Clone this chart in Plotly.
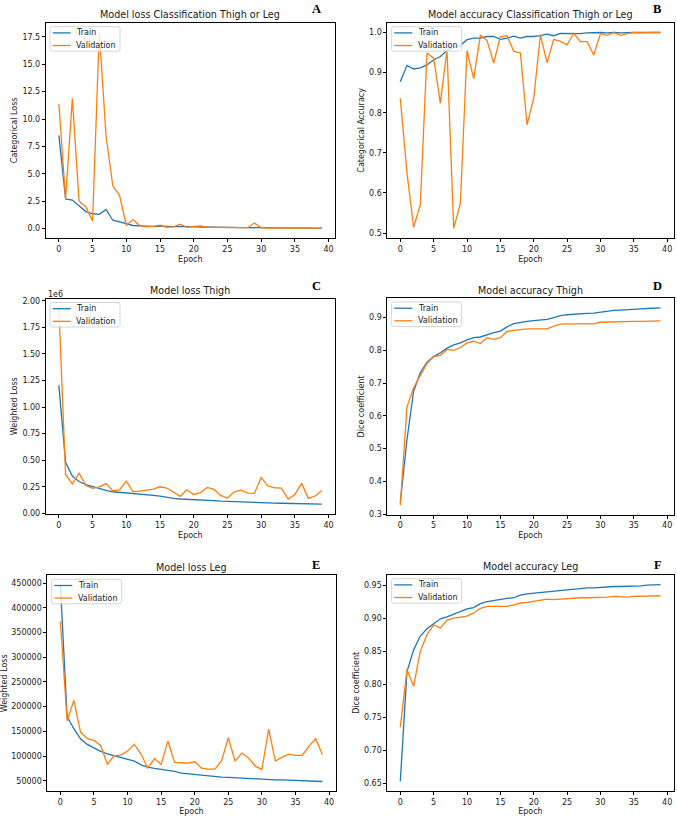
import plotly.graph_objects as go

W, H = 677, 816

epochs = list(range(40))

# Panel A: classification loss
clf_loss_train = [8.5, 2.7, 2.6, 2.07, 1.55, 1.35, 1.3, 1.75, 0.76, 0.6,
                  0.42, 0.28, 0.25, 0.2, 0.2, 0.22, 0.18, 0.17, 0.2, 0.15,
                  0.15, 0.14, 0.12, 0.12, 0.1, 0.1, 0.09, 0.08, 0.08, 0.07,
                  0.05, 0.05, 0.05, 0.04, 0.04, 0.04, 0.03, 0.03, 0.03, 0.03]
clf_loss_val = [11.4, 2.7, 11.9, 2.5, 2.0, 0.7, 17.9, 8.45, 3.9, 3.04,
                0.3, 0.82, 0.25, 0.15, 0.2, 0.3, 0.12, 0.15, 0.4, 0.1,
                0.2, 0.25, 0.12, 0.12, 0.1, 0.06, 0.08, 0.08, 0.08, 0.5,
                0.06, 0.05, 0.05, 0.04, 0.04, 0.06, 0.03, 0.03, 0.03, 0.03]

# Panel B: classification accuracy
clf_acc_train = [0.877, 0.918, 0.909, 0.912, 0.919, 0.932, 0.940, 0.955, 0.962, 0.968,
                 0.982, 0.986, 0.986, 0.990, 0.990, 0.983, 0.986, 0.991, 0.986, 0.990,
                 0.990, 0.992, 0.996, 0.992, 0.998, 0.998, 0.998, 0.997, 0.999, 1.0,
                 1.0, 0.999, 1.0, 0.999, 1.0, 1.0, 1.0, 1.0, 1.0, 1.0]
clf_acc_val = [0.836, 0.65, 0.514, 0.571, 0.949, 0.936, 0.824, 0.957, 0.512, 0.573,
               0.955, 0.885, 0.993, 0.980, 0.924, 0.990, 0.992, 0.953, 0.949, 0.770,
               0.836, 0.994, 0.925, 0.983, 0.978, 0.969, 0.998, 0.977, 0.977, 0.944,
               0.997, 0.993, 1.0, 0.993, 0.997, 1.0, 0.999, 1.0, 1.0, 1.0]

# Panel C: thigh loss
thigh_loss_train = [1205000, 480000, 350000, 300000, 270000, 250000, 235000, 216000, 203000, 197000,
                    188000, 180000, 180000, 175000, 169000, 163000, 150000, 140000, 135000, 133000,
                    130000, 130000, 128000, 120000, 115000, 112000, 110000, 110000, 108000, 106000,
                    102000, 99000, 96000, 95000, 93000, 90000, 90000, 89000, 88000, 86000]
thigh_loss_val = [1930000, 366000, 275000, 378000, 263000, 235000, 250000, 280000, 213000, 220000,
                  304000, 203000, 210000, 220000, 228000, 250000, 238000, 200000, 160000, 222000,
                  178000, 194000, 244000, 225000, 169000, 144000, 203000, 219000, 191000, 188000,
                  338000, 257000, 241000, 238000, 135000, 178000, 282000, 141000, 163000, 216000]
thigh_loss_tickvals = [0, 250000, 500000, 750000, 1000000, 1250000, 1500000, 1750000, 2000000]
thigh_loss_ticktext = ["0.00", "0.25", "0.50", "0.75", "1.00", "1.25", "1.50", "1.75", "2.00"]

# Panel D: thigh dice
thigh_acc_train = [0.335, 0.528, 0.676, 0.732, 0.764, 0.781, 0.793, 0.807, 0.817, 0.823,
                   0.832, 0.839, 0.841, 0.848, 0.854, 0.859, 0.872, 0.882, 0.886, 0.889,
                   0.891, 0.893, 0.895, 0.900, 0.906, 0.909, 0.911, 0.912, 0.913, 0.914,
                   0.917, 0.920, 0.922, 0.923, 0.925, 0.926, 0.927, 0.928, 0.929, 0.930]
thigh_acc_val = [0.328, 0.627, 0.686, 0.721, 0.760, 0.781, 0.785, 0.803, 0.800, 0.809,
                 0.823, 0.828, 0.821, 0.839, 0.834, 0.839, 0.858, 0.861, 0.864, 0.866,
                 0.866, 0.866, 0.866, 0.874, 0.880, 0.881, 0.881, 0.881, 0.881, 0.881,
                 0.886, 0.887, 0.887, 0.888, 0.888, 0.889, 0.889, 0.889, 0.890, 0.890]

# Panel E: leg loss
leg_loss_train = [446000, 180000, 155400, 135100, 123600, 116200, 109500, 104700, 100700, 97300,
                  93200, 89900, 82400, 77700, 75000, 73000, 71600, 68900, 65500, 64200,
                  62800, 61500, 58800, 58100, 57400, 56800, 56100, 54700, 54000, 53400,
                  53400, 52700, 52000, 52000, 51300, 50700, 50000, 50000, 49300, 48600]
leg_loss_val = [373000, 171000, 212800, 148600, 135100, 131800, 121600, 83100, 100700, 102000,
                110100, 123600, 104100, 75700, 94600, 83100, 130400, 87200, 86500, 85800,
                88500, 75700, 73600, 73600, 90500, 137200, 89900, 106100, 96000, 79700,
                73000, 154700, 89900, 98000, 104100, 101400, 101400, 120300, 135100, 103400]

# Panel F: leg dice
leg_acc_train = [0.653, 0.819, 0.852, 0.873, 0.884, 0.892, 0.899, 0.902, 0.906, 0.910,
                 0.914, 0.916, 0.922, 0.925, 0.927, 0.929, 0.930, 0.931, 0.935, 0.937,
                 0.938, 0.939, 0.941, 0.942, 0.942, 0.943, 0.944, 0.945, 0.946, 0.946,
                 0.947, 0.947, 0.948, 0.948, 0.948, 0.949, 0.949, 0.950, 0.950, 0.951]
leg_acc_val = [0.735, 0.822, 0.797, 0.850, 0.875, 0.890, 0.885, 0.897, 0.900, 0.902,
               0.903, 0.908, 0.915, 0.918, 0.918, 0.917, 0.918, 0.920, 0.923, 0.924,
               0.926, 0.927, 0.929, 0.928, 0.929, 0.930, 0.930, 0.931, 0.931, 0.931,
               0.932, 0.932, 0.933, 0.932, 0.932, 0.933, 0.933, 0.933, 0.933, 0.934]

series_names = ["Train", "Validation"]
colors = ["#1f77b4", "#ff7f0e"]

panels = [
    dict(letter="A", title="Model loss Classification Thigh or Leg", ytitle="Categorical Loss",
         train=clf_loss_train, val=clf_loss_val, box=(45.7, 335.0, 22.7, 238.0),
         dtick=2.5, fmt=".1f", letter_pos=(316, 9.3)),
    dict(letter="B", title="Model accuracy Classification Thigh or Leg", ytitle="Categorical Accuracy",
         train=clf_acc_train, val=clf_acc_val, box=(387.3, 673.5, 22.7, 238.0),
         dtick=0.1, fmt=".1f", letter_pos=(657.3, 8.8)),
    dict(letter="C", title="Model loss Thigh", ytitle="Weighted Loss",
         train=thigh_loss_train, val=thigh_loss_val, box=(45.7, 335.0, 298.5, 514.0),
         tickvals=thigh_loss_tickvals, ticktext=thigh_loss_ticktext, letter_pos=(316, 286)),
    dict(letter="D", title="Model accuracy Thigh", ytitle="Dice coefficient",
         train=thigh_acc_train, val=thigh_acc_val, box=(387.3, 673.5, 298.0, 514.8),
         dtick=0.1, fmt=".1f", letter_pos=(657.3, 285.7)),
    dict(letter="E", title="Model loss Leg", ytitle="Weighted Loss",
         train=leg_loss_train, val=leg_loss_val, box=(47.3, 335.5, 575.3, 791.3),
         dtick=50000, fmt="d", letter_pos=(316, 565.3)),
    dict(letter="F", title="Model accuracy Leg", ytitle="Dice coefficient",
         train=leg_acc_train, val=leg_acc_val, box=(387.3, 673.5, 574.7, 791.0),
         dtick=0.05, fmt=".2f", letter_pos=(658, 565.3)),
]


def fx(px):
    return px / W


def fy(py):
    return 1 - py / H


FONT = "DejaVu Sans"
TXT = "#1a1a1a"

fig = go.Figure()
layout = dict(
    width=W, height=H, margin=dict(l=0, r=0, t=0, b=0),
    paper_bgcolor="white", plot_bgcolor="white", showlegend=False,
    font=dict(family=FONT, size=8, color=TXT),
)
annotations = []
shapes = []

for i, p in enumerate(panels, start=1):
    sfx = "" if i == 1 else str(i)
    xa, ya = "x" + sfx, "y" + sfx
    x0, x1, y0, y1 = p["box"]
    for name, data, col in zip(series_names, [p["train"], p["val"]], colors):
        fig.add_trace(go.Scatter(x=epochs, y=data, mode="lines", name=name,
                                 line=dict(color=col, width=1.3),
                                 xaxis=xa, yaxis=ya))
    allv = p["train"] + p["val"]
    lo, hi = min(allv), max(allv)
    pad = 0.05 * (hi - lo)
    xpad = 0.05 * (epochs[-1] - epochs[0])
    common = dict(showline=True, linecolor="black", linewidth=0.8, mirror=True,
                  ticks="outside", ticklen=3, tickwidth=0.8, tickcolor="black",
                  showgrid=False, zeroline=False, automargin=False,
                  tickfont=dict(family=FONT, size=8, color=TXT))
    layout["xaxis" + sfx] = dict(
        common, domain=[fx(x0), fx(x1)], anchor=ya,
        range=[epochs[0] - xpad, epochs[-1] + xpad], tick0=0, dtick=5,
        title=dict(text="Epoch", font=dict(family=FONT, size=8, color=TXT), standoff=3))
    yax = dict(
        common, domain=[fy(y1), fy(y0)], anchor=xa, range=[lo - pad, hi + pad],
        title=dict(text=p["ytitle"], font=dict(family=FONT, size=8, color=TXT), standoff=3))
    if "tickvals" in p:
        yax.update(tickmode="array", tickvals=p["tickvals"], ticktext=p["ticktext"])
    else:
        yax.update(tick0=0, dtick=p["dtick"], tickformat=p["fmt"])
    layout["yaxis" + sfx] = yax

    # panel title
    annotations.append(dict(text=p["title"], xref="paper", yref="paper",
                            x=fx((x0 + x1) / 2), y=fy(y0 - 8), xanchor="center",
                            yanchor="middle", showarrow=False,
                            font=dict(family=FONT, size=9.6, color=TXT)))
    # panel letter
    lx, ly = p["letter_pos"]
    annotations.append(dict(text="<b>" + p["letter"] + "</b>", xref="paper", yref="paper",
                            x=fx(lx), y=fy(ly), xanchor="center", yanchor="middle",
                            showarrow=False,
                            font=dict(family="Liberation Serif", size=12.5, color="black")))
    if "tickvals" in p:
        annotations.append(dict(text="1e6", xref="paper", yref="paper",
                                x=fx(x0), y=fy(y0 - 4), xanchor="left", yanchor="middle",
                                showarrow=False, font=dict(family=FONT, size=8, color=TXT)))

    # legend box (upper left)
    bx0, bx1 = x0 + 4.3, x0 + 74.3
    by0, by1 = y0 + 4, y0 + 28.5
    r = 2.0
    path = (f"M {fx(bx0 + r)},{fy(by0)} L {fx(bx1 - r)},{fy(by0)} "
            f"Q {fx(bx1)},{fy(by0)} {fx(bx1)},{fy(by0 + r)} "
            f"L {fx(bx1)},{fy(by1 - r)} Q {fx(bx1)},{fy(by1)} {fx(bx1 - r)},{fy(by1)} "
            f"L {fx(bx0 + r)},{fy(by1)} Q {fx(bx0)},{fy(by1)} {fx(bx0)},{fy(by1 - r)} "
            f"L {fx(bx0)},{fy(by0 + r)} Q {fx(bx0)},{fy(by0)} {fx(bx0 + r)},{fy(by0)} Z")
    shapes.append(dict(type="path", path=path, xref="paper", yref="paper", layer="above",
                       fillcolor="rgba(255,255,255,0.8)",
                       line=dict(color="#cccccc", width=0.8)))
    for k, (name, col) in enumerate(zip(series_names, colors)):
        rowy = y0 + 10.2 + k * 12.6
        shapes.append(dict(type="line", xref="paper", yref="paper", layer="above",
                           x0=fx(x0 + 7), x1=fx(x0 + 25), y0=fy(rowy), y1=fy(rowy),
                           line=dict(color=col, width=1.3)))
        annotations.append(dict(text=name, xref="paper", yref="paper",
                                x=fx(x0 + 28.5), y=fy(rowy), xanchor="left", yanchor="middle",
                                showarrow=False, font=dict(family=FONT, size=8, color=TXT)))

layout["annotations"] = annotations
layout["shapes"] = shapes
fig.update_layout(**layout)
fig.write_html(
    "out.html",
    config={"displayModeBar": False, "staticPlot": False},
    post_script="document.body.style.margin='0';document.body.style.overflow='hidden';",
)
